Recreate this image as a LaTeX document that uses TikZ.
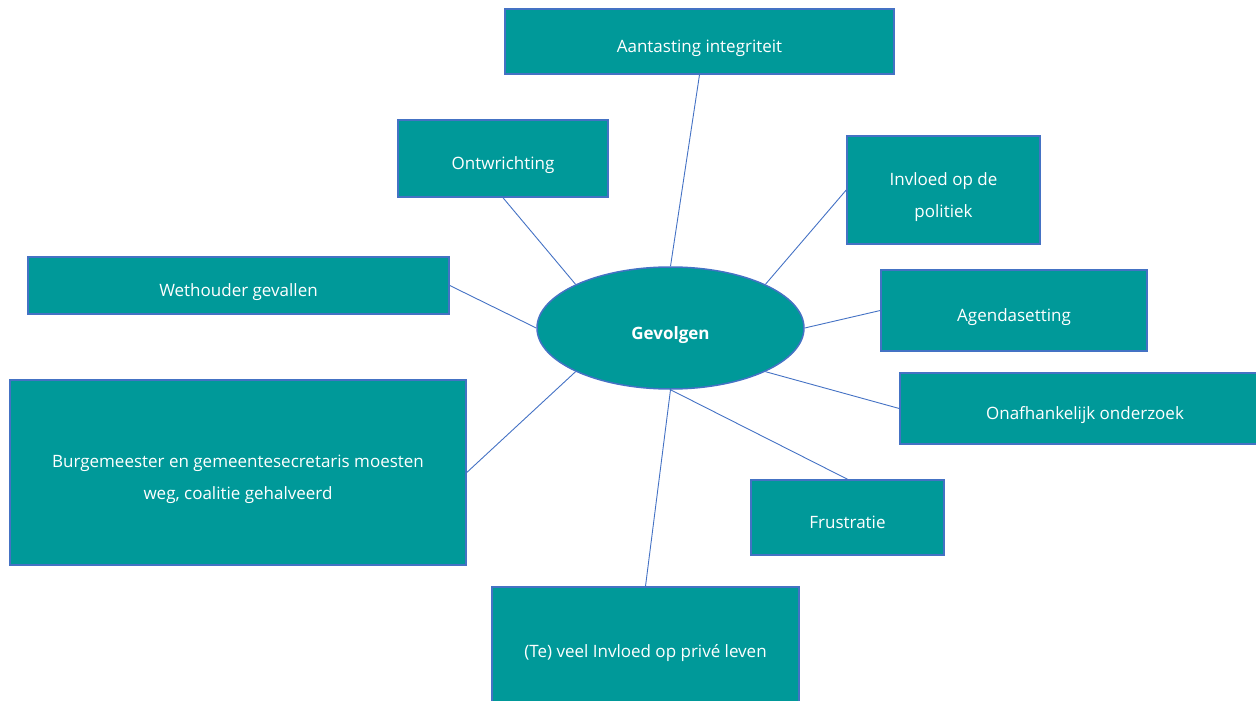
\documentclass[tikz,border=0pt]{standalone}
\usepackage{fontspec}
\setmainfont{Open Sans}
\usepackage{tikz}
\definecolor{tealfill}{HTML}{009999}
\definecolor{randblauw}{HTML}{4472C4}
\tikzset{
    gevolg/.style={rectangle,draw=randblauw,fill=tealfill,line width=1.5pt,text=white,align=center,text height=25pt,text depth=3pt,font=\fontsize{17}{32}\selectfont},
    tweeregels/.style={text height=57pt,text depth=3pt},
    kern/.style={ellipse,draw=randblauw,fill=tealfill,line width=1.5pt,text=white,inner sep=0pt,text height=25pt,text depth=3pt,font=\fontsize{17}{20}\selectfont\bfseries},
    lijn/.style={draw=randblauw,line width=0.9pt},
}
\usetikzlibrary{shapes}
\usetikzlibrary{positioning,backgrounds}

\begin{document}
\begin{tikzpicture}[x=1pt,y=-1pt]
\useasboundingbox (0,0) rectangle (1256,701);
\node[kern,minimum width=267pt,minimum height=122pt](G) at (670.5,328) {Gevolgen};
\node[gevolg,minimum width=389pt,minimum height=65pt](A) at (699.5,41.5) {Aantasting integriteit};
\node[gevolg,minimum width=210pt,minimum height=77pt](O) at (503,158.5) {Ontwrichting};
\node[gevolg,tweeregels,minimum width=193pt,minimum height=108pt](I) at (943.5,190) {Invloed op de\\politiek};
\node[gevolg,minimum width=421pt,minimum height=57pt](W) at (238.5,285.5) {Wethouder gevallen};
\node[gevolg,minimum width=266pt,minimum height=81pt](S) at (1014,310.5) {Agendasetting};
\node[gevolg,tweeregels,minimum width=456pt,minimum height=185pt](B) at (238,472.5) {Burgemeester en gemeentesecretaris moesten\\weg, coalitie gehalveerd};
\node[gevolg,minimum width=370pt,minimum height=71pt](N) at (1085,408.5) {Onafhankelijk onderzoek};
\node[gevolg,minimum width=193pt,minimum height=75pt](F) at (847.5,517.5) {Frustratie};
\node[gevolg,minimum width=307pt,minimum height=118pt](P) at (645.5,646) {(Te) veel Invloed op privé leven};
\draw[lijn] (A.south) -- (G.north);
\draw[lijn] (O.south) -- (G.north west);
\draw[lijn] (I.west) -- (G.north east);
\draw[lijn] (W.east) -- (G.west);
\draw[lijn] (S.west) -- (G.east);
\draw[lijn] (B.east) -- (G.south west);
\draw[lijn] (N.west) -- (G.south east);
\draw[lijn] (F.north) -- (G.south);
\draw[lijn] (P.north) -- (G.south);
\end{tikzpicture}
\end{document}
